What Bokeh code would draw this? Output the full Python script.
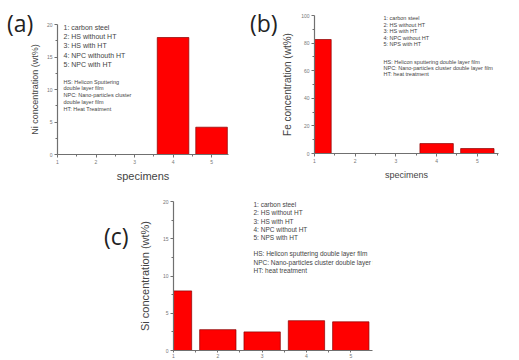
from bokeh.plotting import figure
from bokeh.layouts import column, row
from bokeh.models import Range1d, Label, FixedTicker, ColumnDataSource, Div
from bokeh.embed import file_html
from bokeh.resources import INLINE

# ---------------- data ----------------
specimens = [1, 2, 3, 4, 5]
ni_values = [0, 0, 0, 18.0, 4.2]
fe_values = [82.6, 0, 0, 7.2, 3.6]
si_values = [8.0, 2.8, 2.5, 4.0, 3.85]
ni_ticks = [0, 5, 10, 15, 20]
fe_ticks = [0, 20, 40, 60, 80, 100]
si_ticks = [0, 5, 10, 15, 20]
x_ticks = [1, 2, 3, 4, 5]

legend_a = ["1: carbon steel", "2: HS without HT", "3: HS with HT",
            "4: NPC withouth HT", "5: NPC with HT"]
notes_a = ["HS: Helicon Sputtering", "double layer film",
           "NPC: Nano-particles cluster", "double layer film", "HT: Heat Treatment"]
legend_bc = ["1: carbon steel", "2: HS without HT", "3: HS with HT",
             "4: NPC without HT", "5: NPS with HT"]
notes_bc = ["HS: Helicon sputtering double layer film",
            "NPC: Nano-particles cluster double layer film",
            "HT: heat treatment"]

AX = "#707070"
TXT = "#444444"
FONT = "Liberation Sans"


def make_panel(values, yticks, yminor, ymax, xend, width, height,
               bl, br, bt, bb, ylabel, ylab_size, ylab_standoff,
               xlabel, xlab_size, xlab_standoff):
    p = figure(width=width, height=height, output_backend="svg",
               toolbar_location=None, x_range=Range1d(1, xend),
               y_range=Range1d(0, ymax), min_border_left=bl,
               min_border_right=br, min_border_top=bt, min_border_bottom=bb)
    if p.title is not None:
        p.title.visible = False
        p.title.text_font_size = "0px"
        p.title.standoff = 0
    src = ColumnDataSource(dict(x=specimens, top=values))
    p.vbar(x="x", top="top", width=0.82, source=src, fill_color="#ff0000",
           line_color="#8a0000", line_width=0.7)
    p.xgrid.grid_line_color = None
    p.ygrid.grid_line_color = None
    p.outline_line_color = None
    p.xaxis.ticker = FixedTicker(ticks=x_ticks, minor_ticks=[1.5, 2.5, 3.5, 4.5, 5.5])
    p.yaxis.ticker = FixedTicker(ticks=yticks, minor_ticks=yminor)
    for ax in (p.xaxis[0], p.yaxis[0]):
        ax.axis_line_color = AX
        ax.axis_line_width = 1.2
        ax.major_tick_line_color = AX
        ax.minor_tick_line_color = AX
        ax.major_tick_in = 0
        ax.major_tick_out = 3
        ax.minor_tick_in = 0
        ax.minor_tick_out = 2
        ax.major_label_text_font_size = "5px"
        ax.major_label_text_color = "#777777"
        ax.major_label_text_font = FONT
        ax.major_label_standoff = 2
        ax.axis_label_text_font = FONT
        ax.axis_label_text_font_style = "normal"
        ax.axis_label_text_color = TXT
    p.yaxis.axis_label = ylabel
    p.yaxis.axis_label_text_font_size = ylab_size
    p.yaxis.axis_label_standoff = ylab_standoff
    if xlabel:
        p.xaxis.axis_label = xlabel
        p.xaxis.axis_label_text_font_size = xlab_size
        p.xaxis.axis_label_standoff = xlab_standoff
    return p


def add_lines(p, lines, x, y0, step, size):
    for i, t in enumerate(lines):
        p.add_layout(Label(x=x, y=y0 - i * step, x_units="screen", y_units="screen",
                           text=t, text_font=FONT, text_font_size=size,
                           text_color=TXT, text_baseline="middle"))


def tag(t, left, top):
    return Div(text=t, width=40, height=30,
               styles={"position": "absolute", "left": f"{left}px", "top": f"{top}px",
                       "font-family": "Open Sans", "font-size": "23px",
                       "color": "#222222", "line-height": "30px", "margin": "0"})


# (a) frame x 57..228, y 24..154
pa = make_panel(ni_values, ni_ticks, [2.5, 7.5, 12.5, 17.5], 20, 5.44,
                260, 184, 57, 32, 24, 30,
                "Ni concentration (wt%)", "9px", 4, "specimens", "11px", 3)
add_lines(pa, legend_a, 6, 127.5, 9.4, "7px")
add_lines(pa, notes_a, 6, 73, 6.8, "5.5px")

# (b) frame x 314..498, y 15..153
pb = make_panel(fe_values, fe_ticks, [10, 30, 50, 70, 90], 100, 5.52,
                259, 184, 54, 21, 15, 31,
                "Fe concentration (wt%)", "10px", 5, "specimens", "9px", 4)
add_lines(pb, legend_bc, 69, 135.5, 6.6, "5.5px")
add_lines(pb, notes_bc, 69, 92, 6.2, "5.5px")

# (c) frame x 173..372, y 201..352
pc = make_panel(si_values, si_ticks, [2.5, 7.5, 12.5, 17.5], 20, 5.49,
                392, 176, 173, 20, 17, 8,
                "Si concentration (wt%)", "11px", 9, None, None, 0)
pc.xaxis.major_tick_out = 2
pc.xaxis.major_label_standoff = 1
add_lines(pc, legend_bc, 80, 146, 8.3, "6.5px")
add_lines(pc, notes_bc, 80, 97, 8.5, "6.5px")

layout = column(row(column(pa), column(pb)), pc,
                tag("(a)", 7, 8), tag("(b)", 250, 8), tag("(c)", 104, 221))
open("out.html", "w").write(file_html(layout, INLINE))
